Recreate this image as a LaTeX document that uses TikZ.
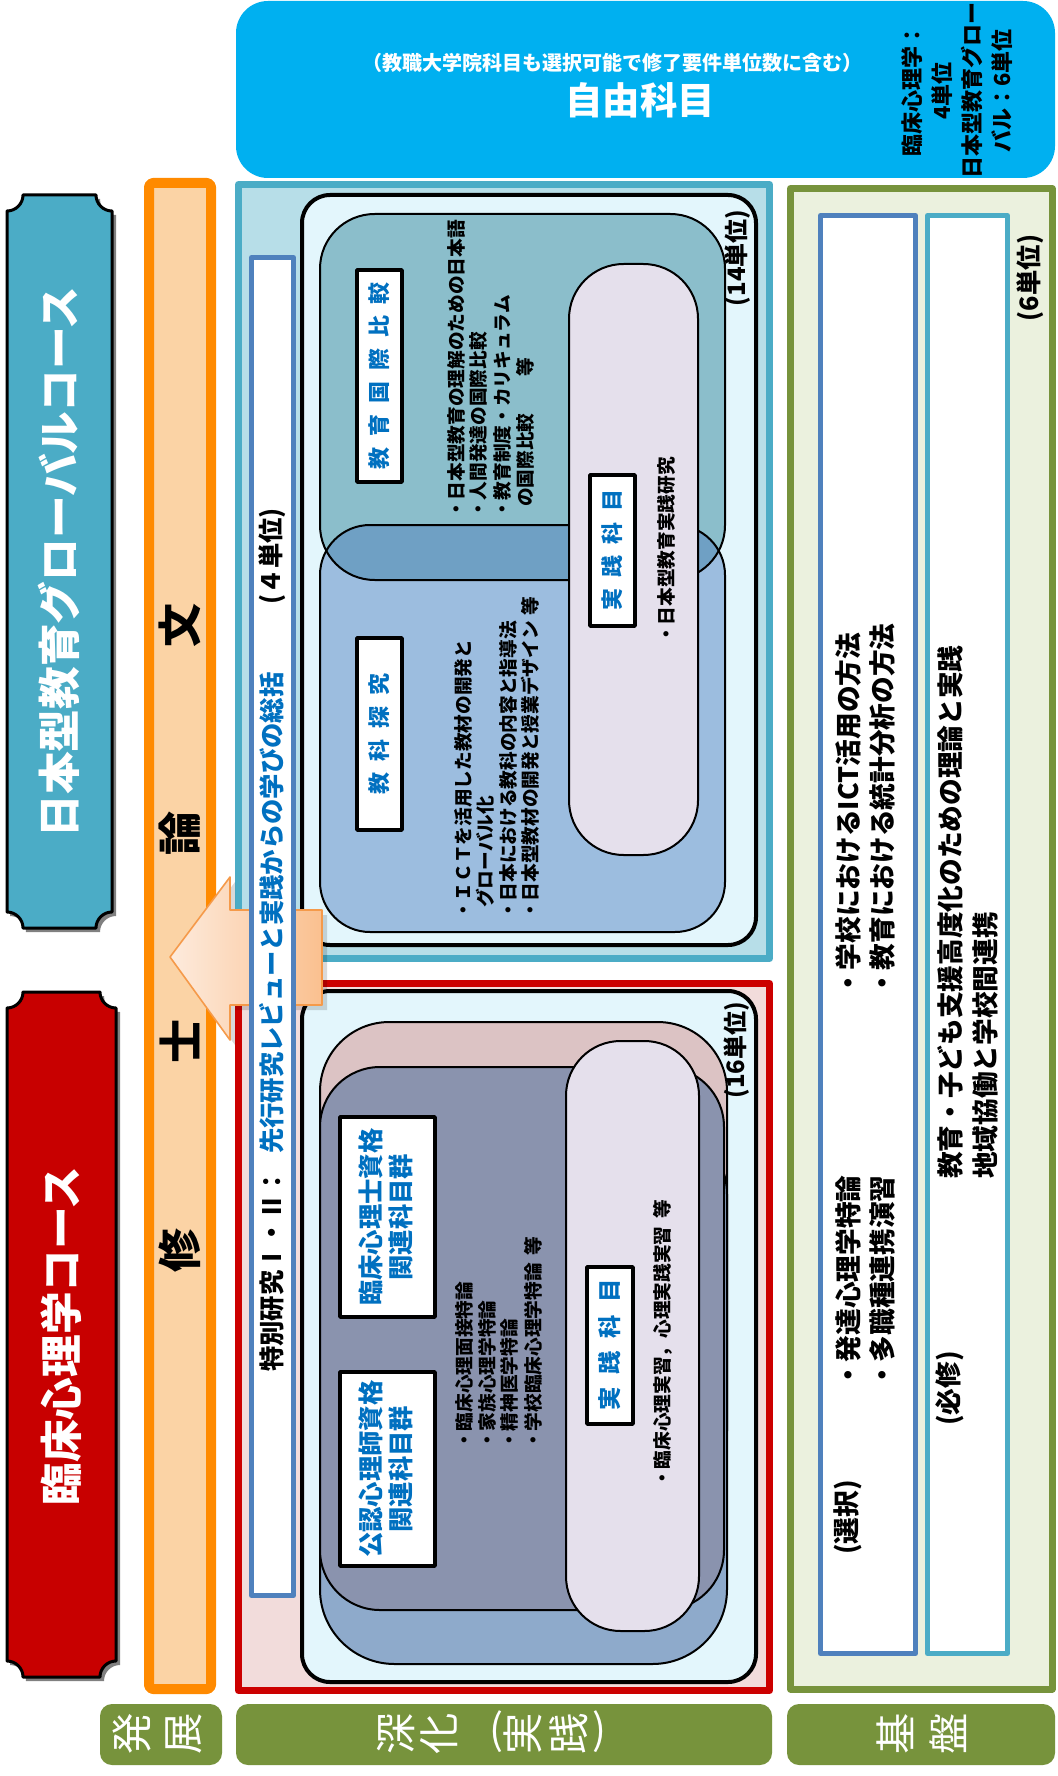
\documentclass[tikz,border=0pt]{standalone}
\usepackage{fontspec}
\setmainfont{Noto Sans CJK JP}
\definecolor{cyanbox}{HTML}{00B0F0}
\definecolor{tealc}{HTML}{4BACC6}
\definecolor{redc}{HTML}{C80000}
\definecolor{redb}{HTML}{CC0000}
\definecolor{orangeb}{HTML}{FF8A00}
\definecolor{orangef}{HTML}{FBD3A5}
\definecolor{globfill}{HTML}{B7DEE8}
\definecolor{clinfill}{HTML}{F2DCDB}
\definecolor{innerf}{HTML}{E3F6FC}
\definecolor{boxA}{HTML}{8BBECB}
\definecolor{boxB}{HTML}{9CBDDF}
\definecolor{overl}{HTML}{6FA0C4}
\definecolor{pillf}{HTML}{E5E0EC}
\definecolor{labblue}{HTML}{0070C0}
\definecolor{pinkb}{HTML}{DCC3C4}
\definecolor{slate}{HTML}{8A93AE}
\definecolor{steel}{HTML}{8EAACB}
\definecolor{olive}{HTML}{77933C}
\definecolor{olivef}{HTML}{EBF1DE}
\definecolor{blueb}{HTML}{4F81BD}
\definecolor{arrowL}{HTML}{FDEBDD}
\definecolor{arrowR}{HTML}{FAC08F}
\definecolor{arrowB}{HTML}{F59A4A}
\newcommand{\fsz}[1]{\fontsize{#1}{#1}\selectfont}
\newcommand{\gp}{\hspace{0.5em}}
\newcommand{\plaquepath}[5]{(#1+#5,#2) -- (#3-#5,#2) .. controls (#3-#5,#2+0.55*#5) and (#3-0.55*#5,#2+#5) .. (#3,#2+#5) -- (#3,#4-#5) .. controls (#3-0.55*#5,#4-#5) and (#3-#5,#4-0.55*#5) .. (#3-#5,#4) -- (#1+#5,#4) .. controls (#1+#5,#4-0.55*#5) and (#1+0.55*#5,#4-#5) .. (#1,#4-#5) -- (#1,#2+#5) .. controls (#1+0.55*#5,#2+#5) and (#1+#5,#2+0.55*#5) .. (#1+#5,#2) -- cycle}
\begin{document}
\begin{tikzpicture}[x=0.75pt,y=-0.75pt,line join=round,
  item/.style={rotate=90, anchor=west, inner sep=0pt, font=\bfseries\fsz{14}},
  bigitem/.style={rotate=90, anchor=west, inner sep=0pt, font=\bfseries\fsz{20}},
  vlab/.style={rotate=90, inner sep=0pt, text=labblue, font=\bfseries\fsz{16.5}},
  units/.style={rotate=90, inner sep=0pt, font=\bfseries\fsz{18}},
  labelbox/.style={fill=white, draw=black, line width=2.6pt},
  roundbox/.style={draw=black, line width=1.5pt},
  greenlab/.style={fill=olive, rounded corners=9pt},
  greenchar/.style={rotate=90, text=white, inner sep=0pt, font=\fsz{31}},
  gparen/.style={text=white, inner sep=0pt, font=\fsz{31}},
  mchar/.style={rotate=90, inner sep=0pt, font=\bfseries\fsz{33}},
  coursetext/.style={rotate=90, text=white, inner sep=0pt, font=\bfseries\fsz{32}}]
\useasboundingbox (0,0) rectangle (1057,1776);
\fill[white] (0,0) rectangle (1057,1776);

% ---------- free subjects box ----------
\fill[cyanbox, rounded corners=24pt] (236,1) rectangle (1055,178);
\node[font=\bfseries\fsz{15}, text=white, inner sep=0pt] (freenote) at (612,63) {（教職大学院科目も選択可能で修了要件単位数に含む）};
\node[font=\bfseries\fsz{28}, text=white, inner sep=0pt] (freetitle) at (640,100) {自由科目};
\node[rotate=90, align=center, inner sep=0pt, font=\bfseries\fontsize{16.5}{22.5}\selectfont] (freeunits) at (957,91) {臨床心理学：\\4単位\\日本型教育グロー\\バル：6単位};

% ---------- course plaques ----------
\fill[black!50] \plaquepath{10}{199}{116}{932}{16};
\filldraw[fill=tealc, draw=black, line width=2.25pt] \plaquepath{7}{195}{112}{928}{16};
\node[coursetext] (globalcourse) at (59,562) {日本型教育グローバルコース};
\fill[black!50] \plaquepath{10}{996}{120}{1681}{16};
\filldraw[fill=redc, draw=black, line width=2.25pt] \plaquepath{7}{992}{116}{1677}{16};
\node[coursetext] (clincourse) at (61,1336) {臨床心理学コース};

% ---------- master thesis bar ----------
\filldraw[fill=orangef, draw=orangeb, line width=7.5pt, rounded corners=3pt] (149,183) rectangle (211,1689);
\node[mchar] (m4) at (180,625) {文};
\node[mchar] (m3) at (180,833) {論};
\node[mchar] (m2) at (180,1041) {士};
\node[mchar] (m1) at (180,1250) {修};

% ---------- outer boxes ----------
\filldraw[fill=globfill, draw=tealc, line width=5.25pt] (238.5,184.5) rectangle (769.5,958.5);
\filldraw[fill=clinfill, draw=redb, line width=5.25pt] (238.5,983.5) rectangle (769.5,1690.5);
\filldraw[fill=innerf, draw=black, line width=3pt, rounded corners=21pt] (302,195) rectangle (756,945);
\filldraw[fill=innerf, draw=black, line width=3pt, rounded corners=21pt] (302,991) rectangle (756,1682);

% ---------- global course groups ----------
\fill[boxA, rounded corners=41pt] (320,214) rectangle (725,580);
\fill[boxB, rounded corners=37.5pt] (320,525) rectangle (725,932);
\begin{scope}
\clip[rounded corners=41pt] (320,214) rectangle (725,580);
\fill[overl, rounded corners=37.5pt] (320,525) rectangle (725,932);
\end{scope}
\draw[roundbox, rounded corners=41pt] (320,214) rectangle (725,580);
\draw[roundbox, rounded corners=37.5pt] (320,525) rectangle (725,932);
\filldraw[fill=pillf, roundbox, rounded corners=41pt] (569,264) rectangle (698,855);

\draw[labelbox] (357,270) rectangle (402,482);
\node[vlab] (kokusai) at (379.5,376) {教\gp 育\gp 国\gp 際\gp 比\gp 較};
\draw[labelbox] (357,638) rectangle (402,830);
\node[vlab] (tankyu) at (379.5,734) {教\gp 科\gp 探\gp 究};
\draw[labelbox] (590,475) rectangle (635,626);
\node[vlab] (jissenA) at (612.5,550) {実\gp 践\gp 科\gp 目};

\node[item] (ga1) at (456,519) {・日本型教育の理解のための日本語};
\node[item] (ga2) at (478,519) {・人間発達の国際比較};
\node[item] (ga3) at (502,519) {・教育制度・カリキュラム};
\node[item] (ga4) at (525,507) {の国際比較};
\node[item, anchor=center] (ga5) at (525,367) {等};

\node[item] (gb1) at (463,920) {・ＩＣＴを活用した教材の開発と};
\node[item] (gb2) at (485,908) {グローバル化};
\node[item] (gb3) at (508,920) {・日本における教科の内容と指導法};
\node[item] (gb4) at (530,920) {・日本型教材の開発と授業デザイン\hspace{0.3em}等};

\node[item] (gp1) at (666,644) {・日本型教育実践研究};
\node[units] (u14) at (738,258) {(14単位)};

% ---------- clinical course groups ----------
\filldraw[fill=pinkb, roundbox, rounded corners=52pt] (320,1022) rectangle (727,1500);
\filldraw[fill=steel, roundbox, rounded corners=56pt] (320,1120) rectangle (727,1664);
\filldraw[fill=slate, roundbox, rounded corners=45pt] (320,1067) rectangle (724,1610);
\filldraw[fill=pillf, roundbox, rounded corners=41pt] (566,1041) rectangle (699,1631);

\draw[labelbox] (340,1117) rectangle (435,1317);
\node[rotate=90, align=center, text=labblue, inner sep=0pt, font=\bfseries\fontsize{19}{22}\selectfont] (rinsho) at (386,1217) {臨床心理士資格\\関連科目群};
\draw[labelbox] (340,1372) rectangle (435,1566);
\node[rotate=90, align=center, text=labblue, inner sep=0pt, font=\bfseries\fontsize{19}{22}\selectfont] (konin) at (386,1469) {公認心理師資格\\関連科目群};
\draw[labelbox] (587,1267) rectangle (633,1424);
\node[vlab, font=\bfseries\fsz{17.5}] (jissenB) at (610,1345) {実\hspace{0.55em}践\hspace{0.55em}科\hspace{0.55em}目};

\node[item] (c1) at (464,1450) {・臨床心理面接特論};
\node[item] (c2) at (487,1450) {・家族心理学特論};
\node[item] (c3) at (509,1450) {・精神医学特論};
\node[item] (c4) at (533,1450) {・学校臨床心理学特論\hspace{0.4em}等};
\node[item] (cp1) at (663,1488) {・臨床心理実習，心理実践実習\hspace{0.4em}等};
\node[units] (u16) at (737,1050) {(16単位)};

% ---------- arrow ----------
\fill[black, opacity=0.15] (175,962) -- (235,882) -- (235,915) -- (327,915) -- (327,1010) -- (235,1010) -- (235,1045) -- cycle;
\filldraw[left color=arrowL, right color=arrowR, draw=arrowB, line width=1.2pt] (170,957) -- (230,877) -- (230,910) -- (322,910) -- (322,1005) -- (230,1005) -- (230,1040) -- cycle;

% ---------- special research box ----------
\filldraw[fill=white, draw=blueb, line width=3.75pt] (251.5,257.5) rectangle (293.5,1595.5);
\node[rotate=90, anchor=west, inner sep=0pt, font=\bfseries\fsz{19}] (tokubetsu) at (272,1372) {特別研究Ⅰ・Ⅱ：\hspace{0.6em}\textcolor{labblue}{先行研究レビューと実践からの学びの総括}};
\node[rotate=90, inner sep=0pt, font=\bfseries\fsz{19}] (tokuunits) at (272,556) {(４単位)};

% ---------- foundation ----------
\filldraw[fill=olivef, draw=olive, line width=5.25pt] (790.5,188.5) rectangle (1052,1689);
\filldraw[fill=white, draw=blueb, line width=3.75pt] (820.5,215.5) rectangle (915.5,1653.5);
\filldraw[fill=white, draw=tealc, line width=3.75pt] (927.5,215.5) rectangle (1007.5,1653.5);
\node[units, font=\bfseries\fsz{19}] (u6) at (1030,278) {(6単位)};
\node[bigitem] (k1) at (848,1555) {(選択)};
\node[bigitem] (k2) at (848,1389) {・発達心理学特論};
\node[bigitem] (k3) at (848,997) {・学校におけるICT活用の方法};
\node[bigitem] (k4) at (882,1389) {・多職種連携演習};
\node[bigitem] (k5) at (882,997) {・教育における統計分析の方法};
\node[bigitem] (k6) at (950,1426) {(必修)};
\node[bigitem] (k7) at (950,1179) {教育・子ども支援高度化のための理論と実践};
\node[bigitem] (k8) at (985,1179) {地域協働と学校間連携};

% ---------- bottom labels ----------
\fill[greenlab] (100,1704) rectangle (222,1765);
\node[greenchar] (h1) at (132,1734) {発};
\node[greenchar] (h2) at (184,1734) {展};
\fill[greenlab] (236,1704) rectangle (772,1765);
\node[greenchar] (s1) at (396,1734) {深};
\node[greenchar] (s2) at (439,1734) {化};
\node[gparen] (s3) at (496,1732) {(};
\node[greenchar] (s4) at (523,1734) {実};
\node[greenchar] (s5) at (569,1734) {践};
\node[gparen] (s6) at (599,1732) {)};
\fill[greenlab] (787,1704) rectangle (1055,1765);
\node[greenchar] (b1) at (895,1734) {基};
\node[greenchar] (b2) at (948,1734) {盤};
\end{tikzpicture}
\end{document}
